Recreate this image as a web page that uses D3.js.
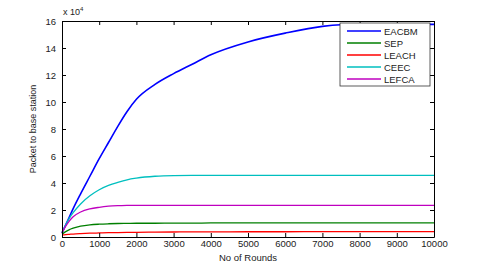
<!DOCTYPE html>
<html>
<head>
<meta charset="utf-8">
<script src="https://cdn.jsdelivr.net/npm/d3@7"></script>
<style>
  body { margin: 0; background: #fff; }
  text { font-family: "Liberation Sans", Arial, sans-serif; fill: #222; }
</style>
</head>
<body>
<div id="chart"></div>
<script>
// data (packet counts in units of 1e4)
const rounds = [0, 100, 200, 300, 500, 750, 1000, 1250, 1500, 1750, 2000, 2500, 3000, 3500, 4000, 5000, 6000, 7000, 7500, 8000, 9000, 10000];
const eacbm = [0.3, 0.9, 1.5, 2.1, 3.2, 4.5, 5.8, 7.0, 8.2, 9.3, 10.2, 11.3, 12.1, 12.8, 13.5, 14.45, 15.1, 15.6, 15.72, 15.75, 15.75, 15.75];
const sep   = [0.2, 0.4, 0.55, 0.65, 0.8, 0.9, 0.95, 0.98, 1.0, 1.01, 1.02, 1.02, 1.03, 1.03, 1.04, 1.04, 1.05, 1.05, 1.05, 1.05, 1.05, 1.05];
const leach = [0.15, 0.18, 0.2, 0.22, 0.25, 0.28, 0.3, 0.32, 0.33, 0.34, 0.35, 0.36, 0.37, 0.38, 0.38, 0.39, 0.39, 0.4, 0.4, 0.4, 0.4, 0.4];
const ceec  = [0.3, 0.9, 1.4, 1.8, 2.45, 3.05, 3.5, 3.82, 4.05, 4.24, 4.36, 4.5, 4.55, 4.56, 4.56, 4.56, 4.56, 4.56, 4.56, 4.56, 4.56, 4.56];
const lefca = [0.3, 0.8, 1.2, 1.5, 1.85, 2.08, 2.2, 2.28, 2.32, 2.34, 2.35, 2.35, 2.35, 2.35, 2.35, 2.35, 2.35, 2.35, 2.35, 2.35, 2.35, 2.35];

const seriesNames = ["EACBM", "SEP", "LEACH", "CEEC", "LEFCA"];
const seriesValues = [eacbm, sep, leach, ceec, lefca];
const seriesColors = ["#0000ff", "#007f00", "#ff0000", "#00bfbf", "#bf00bf"];

const xTicks = d3.range(0, 10001, 1000);
const yTicks = d3.range(0, 17, 2);

// sizing
const width = 479, height = 266;
const margin = { top: 21, right: 45, bottom: 29, left: 62 };

const svg = d3.select("#chart")
  .append("svg")
  .attr("width", width)
  .attr("height", height);

const x = d3.scaleLinear().domain([0, 10000]).range([margin.left, width - margin.right]);
const y = d3.scaleLinear().domain([0, 16]).range([height - margin.bottom, margin.top]);

// plot area
svg.append("rect")
  .attr("x", x(0)).attr("y", y(16))
  .attr("width", x(10000) - x(0)).attr("height", y(0) - y(16))
  .attr("fill", "#fff");

// lines
const line = d3.line()
  .x((d, i) => x(rounds[i]))
  .y(d => y(d))
  .curve(d3.curveMonotoneX);

svg.selectAll(".series")
  .data(seriesValues)
  .join("path")
  .attr("class", "series")
  .attr("fill", "none")
  .attr("stroke", (d, i) => seriesColors[i])
  .attr("stroke-width", (d, i) => i == 0 ? 1.6 : 1.3)
  .attr("d", line);

// axes (ticks inward, boxed)
const fmt = d3.format("d");
svg.append("g")
  .attr("transform", `translate(0,${y(0)})`)
  .call(d3.axisBottom(x).tickValues(xTicks).tickFormat(fmt).tickSizeInner(-4).tickSizeOuter(0).tickPadding(3))
  .call(g => g.selectAll("text").attr("font-size", "9.5px"));
svg.append("g")
  .attr("transform", `translate(0,${y(16)})`)
  .call(d3.axisTop(x).tickValues(xTicks).tickFormat("").tickSizeInner(-4).tickSizeOuter(0));
svg.append("g")
  .attr("transform", `translate(${x(0)},0)`)
  .call(d3.axisLeft(y).tickValues(yTicks).tickFormat(fmt).tickSizeInner(-4).tickSizeOuter(0).tickPadding(6))
  .call(g => g.selectAll("text").attr("font-size", "9.5px"));
svg.append("g")
  .attr("transform", `translate(${x(10000)},0)`)
  .call(d3.axisRight(y).tickValues(yTicks).tickFormat("").tickSizeInner(-4).tickSizeOuter(0));

svg.selectAll(".domain").attr("stroke", "#000");
svg.selectAll(".tick line").attr("stroke", "#000");

// exponent label
const ex = svg.append("text")
  .attr("x", x(0) + 1).attr("y", y(16) - 6)
  .attr("font-size", "9px");
ex.append("tspan").text("x 10");
ex.append("tspan").attr("dy", -4).attr("font-size", "6px").text("4");

// axis titles
svg.append("text")
  .attr("x", (x(0) + x(10000)) / 2).attr("y", height - 5)
  .attr("text-anchor", "middle").attr("font-size", "9.5px")
  .text("No of Rounds");
svg.append("text")
  .attr("transform", `translate(36,${(y(0) + y(16)) / 2}) rotate(-90)`)
  .attr("text-anchor", "middle").attr("font-size", "9px")
  .text("Packet to base station");

// legend
const lg = svg.append("g").attr("transform", "translate(340,23)");
lg.append("rect")
  .attr("width", 90).attr("height", 63)
  .attr("fill", "#fff").attr("stroke", "#333").attr("stroke-width", 0.8);
const item = lg.selectAll(".item")
  .data(seriesNames)
  .join("g")
  .attr("class", "item")
  .attr("transform", (d, i) => `translate(0,${8 + i * 12})`);
item.append("line")
  .attr("x1", 7).attr("x2", 41)
  .attr("stroke", (d, i) => seriesColors[i]).attr("stroke-width", 1.3);
item.append("text")
  .attr("x", 44).attr("y", 3.5)
  .attr("font-size", "9.5px")
  .text(d => d);
</script>
</body>
</html>
